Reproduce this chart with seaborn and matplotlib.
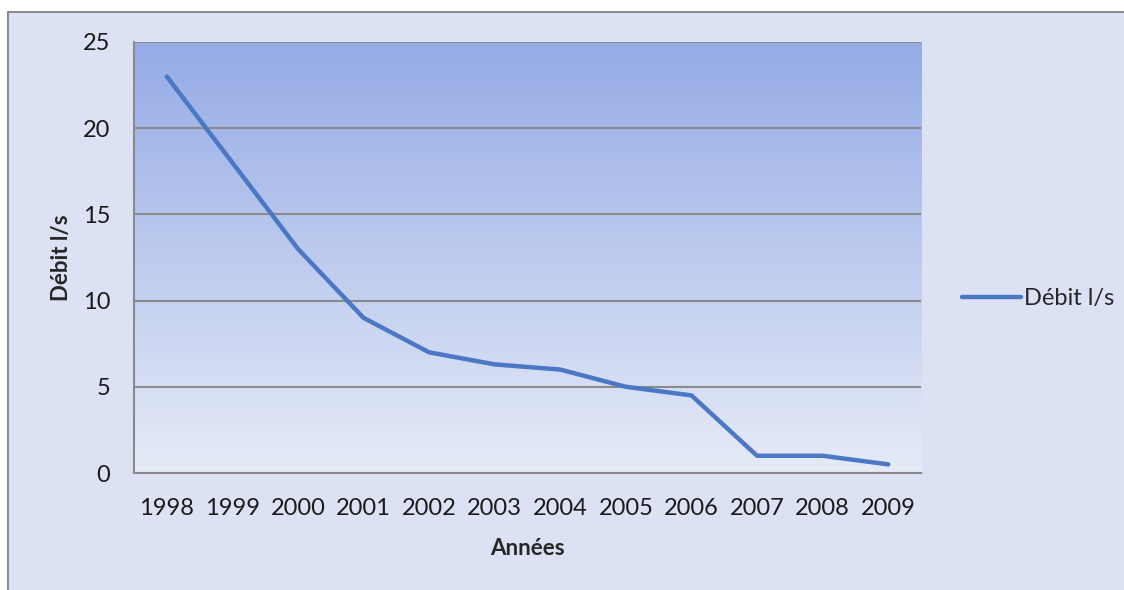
import matplotlib.pyplot as plt
import seaborn as sns
import pandas as pd
import numpy as np
from matplotlib.patches import Rectangle
from matplotlib.colors import LinearSegmentedColormap

# données
annees = ["1998", "1999", "2000", "2001", "2002", "2003",
          "2004", "2005", "2006", "2007", "2008", "2009"]
debit = [23, 18, 13, 9, 7, 6.3, 6, 5, 4.5, 1, 1, 0.5]
yticks = [0, 5, 10, 15, 20, 25]

sns.set_style("white")
plt.rcParams["font.family"] = ["Lato", "DejaVu Sans"]

df = pd.DataFrame({"pos": np.arange(len(annees)), "annee": annees, "Débit l/s": debit})

fig = plt.figure(figsize=(11.24, 5.9), dpi=100)
fig.patch.set_facecolor("white")

# zone du graphique (fond gris-bleu avec bordure gauche/haut), dans un axe de fond
bg = fig.add_axes([0, 0, 1, 1], zorder=-1)
bg.set_xlim(0, 1124)
bg.set_ylim(590, 0)
bg.axis("off")
bg.add_patch(Rectangle((8, 12), 1200, 700, facecolor="#dce2f4", edgecolor="none"))
bg.plot([8, 8], [600, 12], color="#8c8c8c", lw=1.5)
bg.plot([8, 1124], [12, 12], color="#8c8c8c", lw=1.5)

ax = fig.add_axes([134 / 1124, 117 / 590, 787 / 1124, 431 / 590])
ax.set_facecolor("none")

# dégradé du fond de la zone de traçage
grad = LinearSegmentedColormap.from_list("fond", ["#e6ebf7", "#95abe6"])
ax.imshow(np.linspace(0, 1, 256).reshape(-1, 1), aspect="auto", cmap=grad, origin="lower",
          extent=[-0.5, len(annees) - 0.5, 0, 25], zorder=0)

for y in yticks[1:]:
    ax.axhline(y, color="#8a8a8a", lw=1.5, zorder=1)

sns.lineplot(data=df, x="pos", y="Débit l/s", ax=ax, color="#4a78c4", lw=3.2,
             label="Débit l/s", zorder=3)

ax.set_xlim(-0.5, len(annees) - 0.5)
ax.set_ylim(0, 25)
ax.set_yticks(yticks)
ax.set_yticklabels([str(v) for v in yticks], fontsize=17, color="#1a1a1a")
ax.set_xticks(np.arange(len(annees)))
ax.set_xticklabels(annees, fontsize=17, color="#1a1a1a")
ax.set_xticks(np.arange(len(annees) + 1) - 0.5, minor=True)
ax.tick_params(axis="x", which="major", length=0, pad=18)
ax.tick_params(axis="x", which="minor", length=8, width=1.5, color="#8a8a8a", direction="out")
ax.tick_params(axis="y", length=7, width=1.5, color="#8a8a8a", direction="out", pad=10)
ax.grid(False)

for s in ["top", "right"]:
    ax.spines[s].set_visible(False)
for s in ["left", "bottom"]:
    ax.spines[s].set_color("#8a8a8a")
    ax.spines[s].set_linewidth(1.5)

ax.set_xlabel("Années", fontsize=16, fontweight="bold", labelpad=14)
ax.set_ylabel("Débit l/s", fontsize=16, fontweight="bold", labelpad=8)

leg = ax.legend(loc="center left", bbox_to_anchor=(1.025, 0.405), frameon=False,
                fontsize=17, handlelength=2.5, handletextpad=0.15)

fig.savefig("out.png", dpi=100)
